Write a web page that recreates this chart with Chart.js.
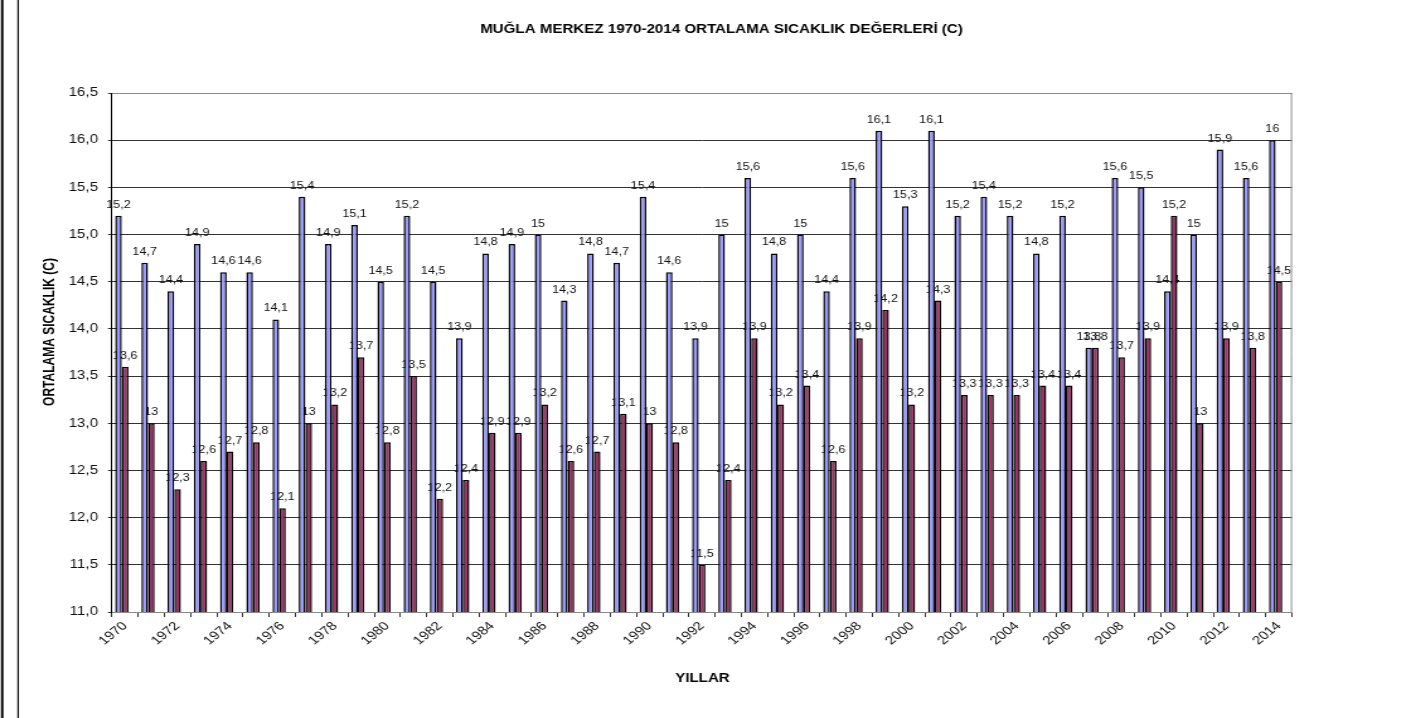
<!DOCTYPE html>
<html>
<head>
<meta charset="utf-8">
<title>Muğla Merkez 1970-2014 Ortalama Sıcaklık</title>
<script src="https://cdn.jsdelivr.net/npm/chart.js@4.4.1/dist/chart.umd.min.js"></script>
<style>
  html, body { margin: 0; padding: 0; background: #fff; overflow: hidden; }
  #grafik { display: block; }
</style>
</head>
<body>
<!-- drawn on a narrower surface and widened to the page width -->
<canvas id="grafik" width="1120" height="718" style="width:1411px;height:718px"></canvas>
<script>
// Years on the category axis
const yillar = [
  '1970','1971','1972','1973','1974','1975','1976','1977','1978','1979',
  '1980','1981','1982','1983','1984','1985','1986','1987','1988','1989',
  '1990','1991','1992','1993','1994','1995','1996','1997','1998','1999',
  '2000','2001','2002','2003','2004','2005','2006','2007','2008','2009',
  '2010','2011','2012','2013','2014'
];

// First temperature series (lilac bars)
const sicaklikSeri1 = [
  15.2, 14.7, 14.4, 14.9, 14.6, 14.6, 14.1, 15.4, 14.9, 15.1,
  14.5, 15.2, 14.5, 13.9, 14.8, 14.9, 15.0, 14.3, 14.8, 14.7,
  15.4, 14.6, 13.9, 15.0, 15.6, 14.8, 15.0, 14.4, 15.6, 16.1,
  15.3, 16.1, 15.2, 15.4, 15.2, 14.8, 15.2, 13.8, 15.6, 15.5,
  14.4, 15.0, 15.9, 15.6, 16.0
];

// Second temperature series (plum bars)
const sicaklikSeri2 = [
  13.6, 13.0, 12.3, 12.6, 12.7, 12.8, 12.1, 13.0, 13.2, 13.7,
  12.8, 13.5, 12.2, 12.4, 12.9, 12.9, 13.2, 12.6, 12.7, 13.1,
  13.0, 12.8, 11.5, 12.4, 13.9, 13.2, 13.4, 12.6, 13.9, 14.2,
  13.2, 14.3, 13.3, 13.3, 13.3, 13.4, 13.4, 13.8, 13.7, 13.9,
  15.2, 13.0, 13.9, 13.8, 14.5
];

// Value axis range and step
const yEksenMin = 11.0;
const yEksenMax = 16.5;
const yEksenAdim = 0.5;

const baslik = 'MUĞLA MERKEZ 1970-2014 ORTALAMA SICAKLIK DEĞERLERİ (C)';
const yEksenBaslik = 'ORTALAMA SICAKLIK (C)';
const xEksenBaslik = 'YILLAR';

const YAZI = "'Liberation Sans', Arial, sans-serif";
Chart.defaults.font.family = YAZI;

const virgul = v => String(v).replace('.', ',');

// Value labels sit above each bar; bars are painted over them afterwards
const degerEtiketleri = {
  id: 'degerEtiketleri',
  beforeDatasetsDraw(chart) {
    const ctx = chart.ctx;
    ctx.save();
    ctx.font = '10px ' + YAZI;
    ctx.fillStyle = '#111';
    ctx.textAlign = 'center';
    ctx.textBaseline = 'alphabetic';
    [0, 1].forEach(di => {
      const meta = chart.getDatasetMeta(di);
      const veri = chart.data.datasets[di].data;
      meta.data.forEach((bar, i) => {
        ctx.fillText(virgul(veri[i]), bar.x, bar.y - 8);
      });
    });
    // grey frame on the top and right of the plot area
    const a = chart.chartArea;
    ctx.strokeStyle = '#8a8a8a';
    ctx.lineWidth = 1;
    ctx.beginPath();
    ctx.moveTo(a.left, a.top + 0.5);
    ctx.lineTo(a.right - 0.5, a.top + 0.5);
    ctx.lineTo(a.right - 0.5, a.bottom);
    ctx.stroke();
    ctx.restore();
  }
};

// Page titles and the two rules on the left edge
const sayfaYazilari = {
  id: 'sayfaYazilari',
  afterDraw(chart) {
    const ctx = chart.ctx;
    ctx.save();
    ctx.fillStyle = '#000';
    ctx.fillRect(0.8, 0, 1.9, chart.height);
    ctx.fillRect(13.8, 0, 1.1, chart.height);

    ctx.font = 'bold 12px ' + YAZI;
    ctx.textAlign = 'center';
    ctx.textBaseline = 'middle';
    ctx.fillText(baslik, 572.7, 30);
    ctx.fillText(xEksenBaslik, 557.6, 679);

    ctx.translate(39.7, 332);
    ctx.rotate(-Math.PI / 2);
    ctx.fillText(yEksenBaslik, 0, 0);
    ctx.restore();
  }
};

new Chart(document.getElementById('grafik'), {
  type: 'bar',
  data: {
    labels: yillar,
    datasets: [
      {
        label: 'Seri 1',
        data: sicaklikSeri1,
        backgroundColor: '#9999ff',
        borderColor: '#000',
        borderWidth: 1.5
      },
      {
        label: 'Seri 2',
        data: sicaklikSeri2,
        backgroundColor: '#993366',
        borderColor: '#000',
        borderWidth: 1.5
      },
      {
        // empty slot that keeps each pair to the left of its category
        label: '',
        data: []
      }
    ]
  },
  options: {
    responsive: false,
    animation: false,
    devicePixelRatio: 1,
    layout: { padding: { left: 0, right: 94.4, top: 93, bottom: 0 } },
    datasets: { bar: { categoryPercentage: 0.76, barPercentage: 1.0 } },
    plugins: {
      legend: { display: false },
      title: { display: false },
      tooltip: { enabled: false }
    },
    scales: {
      x: {
        grid: {
          offset: true,
          drawOnChartArea: false,
          drawTicks: true,
          tickLength: 5,
          color: '#333'
        },
        border: { color: '#8a8a8a', width: 1 },
        ticks: {
          autoSkip: false,
          maxRotation: 45,
          minRotation: 45,
          padding: 2,
          color: '#111',
          font: { size: 12 },
          callback: (v, i) => (i % 2 === 0 ? yillar[i] : '')
        },
        afterFit: s => { s.height = 106; }
      },
      y: {
        min: yEksenMin,
        max: yEksenMax,
        grid: { color: '#333', tickLength: 3.2 },
        border: { color: '#000', width: 1 },
        ticks: {
          stepSize: yEksenAdim,
          padding: 7.9,
          color: '#111',
          font: { size: 12 },
          callback: v => v.toFixed(1).replace('.', ',')
        },
        afterFit: s => { s.width = 88.9; }
      }
    }
  },
  plugins: [degerEtiketleri, sayfaYazilari]
});
</script>
</body>
</html>
